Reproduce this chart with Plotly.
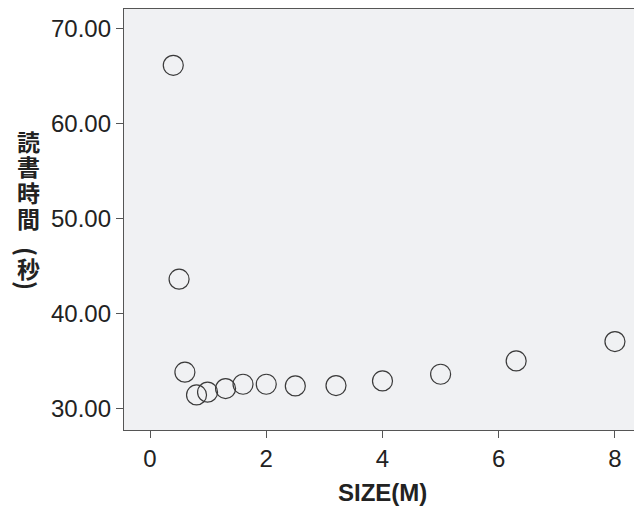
import plotly.graph_objects as go

size_m = [0.40, 0.50, 0.60, 0.80, 0.99, 1.30, 1.60, 2.00, 2.50, 3.20, 4.00, 5.00, 6.30, 8.00]
read_time = [66.16, 43.64, 33.84, 31.44, 31.73, 32.11, 32.57, 32.57, 32.39, 32.43, 32.92, 33.62, 35.03, 37.06]

x_ticks = [0, 2, 4, 6, 8]
y_ticks = [30, 40, 50, 60, 70]
y_tick_text = ["30.00", "40.00", "50.00", "60.00", "70.00"]
x_title = "SIZE(M)"
y_title_chars = ["読", "書", "時", "間", "(", "秒", ")"]
y_title_pix = [141, 166, 192, 218, 251, 268, 285]
y_title_angle = [0, 0, 0, 0, 90, 0, 90]
y_title_size = [23, 23, 23, 23, 24, 23, 24]

# the page body has an 8px margin (top/left); the figure is sized to end at the window edge
OFF = 8
W, H = 642 - OFF, 506 - OFF
ML, MR, MT, MB = 124 - OFF, 1, 9 - OFF, 76
plot_h = H - MT - MB
plot_w = W - ML - MR
PLOT_BOTTOM = 506 - MB

fig = go.Figure()
fig.add_trace(go.Scatter(
    x=size_m, y=read_time, mode="markers",
    marker=dict(size=20, color="rgba(0,0,0,0)",
                line=dict(color="#3a3a3a", width=1.2)),
    showlegend=False, hoverinfo="x+y"))

axis_common = dict(showgrid=False, zeroline=False, showline=True, mirror=True,
                   linecolor="#555555", linewidth=1.3, ticks="outside", ticklen=7,
                   tickcolor="#555555", tickwidth=1.2, automargin=False,
                   tickfont=dict(family="Liberation Sans, Arial", size=24, color="#222222"))

fig.update_xaxes(range=[-0.448, 8.448], tickvals=x_ticks, ticktext=[str(v) for v in x_ticks],
                 **axis_common)
fig.update_yaxes(range=[27.75, 72.09], tickvals=y_ticks, ticktext=y_tick_text, **axis_common)

for ch, py, ang, sz in zip(y_title_chars, y_title_pix, y_title_angle, y_title_size):
    fig.add_annotation(text="<b>" + ch + "</b>", xref="paper", yref="paper",
                       x=(28 - 124) / plot_w, y=(PLOT_BOTTOM - py) / plot_h,
                       xanchor="center", yanchor="middle", showarrow=False,
                       textangle=ang,
                       font=dict(family="Noto Sans CJK JP", size=sz, color="#222222"))

fig.add_annotation(text="<b>" + x_title + "</b>", xref="paper", yref="paper",
                   x=0.5, y=(PLOT_BOTTOM - 492) / plot_h, xanchor="center", yanchor="middle",
                   showarrow=False,
                   font=dict(family="Liberation Sans, Arial", size=24, color="#222222"))

fig.update_layout(width=W, height=H, margin=dict(l=ML, r=MR, t=MT, b=MB, autoexpand=False),
                  plot_bgcolor="#F0F1F3", paper_bgcolor="white")
fig.write_html("out.html")
